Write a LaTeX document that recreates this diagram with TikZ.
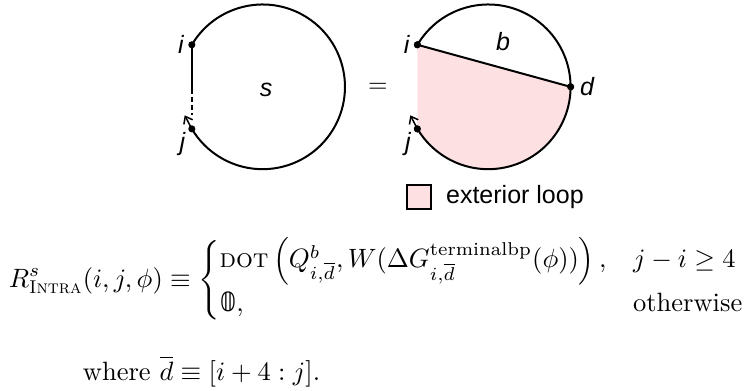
\documentclass[tikz,border=0pt]{standalone}
\usepackage{amsmath}
\usepackage{fontspec}
\setsansfont{Liberation Sans}
\newfontfamily\dsfont{DejaVu Sans}
\usetikzlibrary{arrows.meta, positioning, calc}
\definecolor{cpink}{HTML}{FDE0E2}
\tikzset{
  every picture/.style={line width=0.8pt},
  dotpt/.style={circle, fill=black, inner sep=0pt, minimum size=1mm},
  lbl/.style={font=\sffamily\itshape, inner sep=1pt},
  tick/.style={-{Straight Barb[length=0.9mm, width=1.4mm]}, line width=0.6pt},
  keybox/.style={draw, fill=#1, minimum size=3.4mm, inner sep=0pt},
  keybox/.default=cpink,
  mathtxt/.style={inner sep=0pt, scale=1.06, transform shape},
}

\begin{document}
\begin{tikzpicture}
  \useasboundingbox (0,0) rectangle (10.58,5.48);
  % left: unpaired segment s
  \coordinate (cL) at (3.69,4.26);
  \node[dotpt] (iL) at ($(cL)+(149.3:1.157)$) {};
  \node[dotpt] (jL) at ($(cL)+(210.7:1.157)$) {};
  \draw (iL.center) arc[start angle=149.3, end angle=-149.3, radius=1.157];
  \coordinate (mL) at ($(iL)+(0,-0.62)$);
  \coordinate (nL) at ($(iL)+(0,-0.99)$);
  \coordinate (aL) at ($(jL)+(-0.1,0.19)$);
  \draw (iL.center) -- (mL);
  \draw[dash pattern=on 2pt off 1.2pt] (mL) -- (nL);
  \draw[tick] (jL.center) -- (aL);
  \node[lbl, left=0mm of iL] {i};
  \node[lbl, below left=-0.5mm and 0mm of jL] {j};
  \node[lbl] (s) at (3.74,4.22) {s};

  \node (eqs) at (5.31,4.25) {=};

  % right: exterior loop closed by pair (i,d)
  \coordinate (cR) at (6.86,4.26);
  \node[dotpt] (iR) at ($(cR)+(149.3:1.157)$) {};
  \node[dotpt] (jR) at ($(cR)+(210.7:1.157)$) {};
  \node[dotpt] (dR) at ($(cR)+(0:1.157)$) {};
  \coordinate (aR) at ($(jR)+(-0.1,0.19)$);
  \fill[cpink] (iR.center) -- (dR.center) arc[start angle=0, end angle=-149.3, radius=1.157] -- cycle;
  \draw (iR.center) arc[start angle=149.3, end angle=-149.3, radius=1.157];
  \draw (iR.center) -- (dR.center);
  \draw[tick] (jR.center) -- (aR);
  \node[dotpt] at (iR) {};
  \node[dotpt] at (jR) {};
  \node[dotpt] at (dR) {};
  \node[lbl, left=0mm of iR] {i};
  \node[lbl, below left=-0.5mm and 0mm of jR] {j};
  \node[lbl, right=0.2mm of dR] {d};
  \node[lbl] (b) at (7.07,4.89) {b};

  % key
  \node[keybox] (key) at (5.89,2.71) {};
  \node[font=\sffamily, inner sep=0pt, right=1.8mm of key] (keytxt) {exterior loop};

  % recursion
  \node[mathtxt, anchor=west] (eq) at (0.11,1.54) {$\displaystyle
    R^s_{\textsc{Intra}}(i,j,\phi) \equiv
    \begin{cases}
      \textsc{dot}\left(Q^b_{i,\overline{d}}, W(\Delta G^{\text{terminalbp}}_{i,\overline{d}}(\phi))\right), & j-i \geq 4\\
      \text{\dsfont 𝟘}, & \text{otherwise}
    \end{cases}$};
  \node[mathtxt, anchor=base west] (where) at (1.15,0.14) {where $\overline{d} \equiv [i+4 : j]$.};
\end{tikzpicture}
\end{document}
